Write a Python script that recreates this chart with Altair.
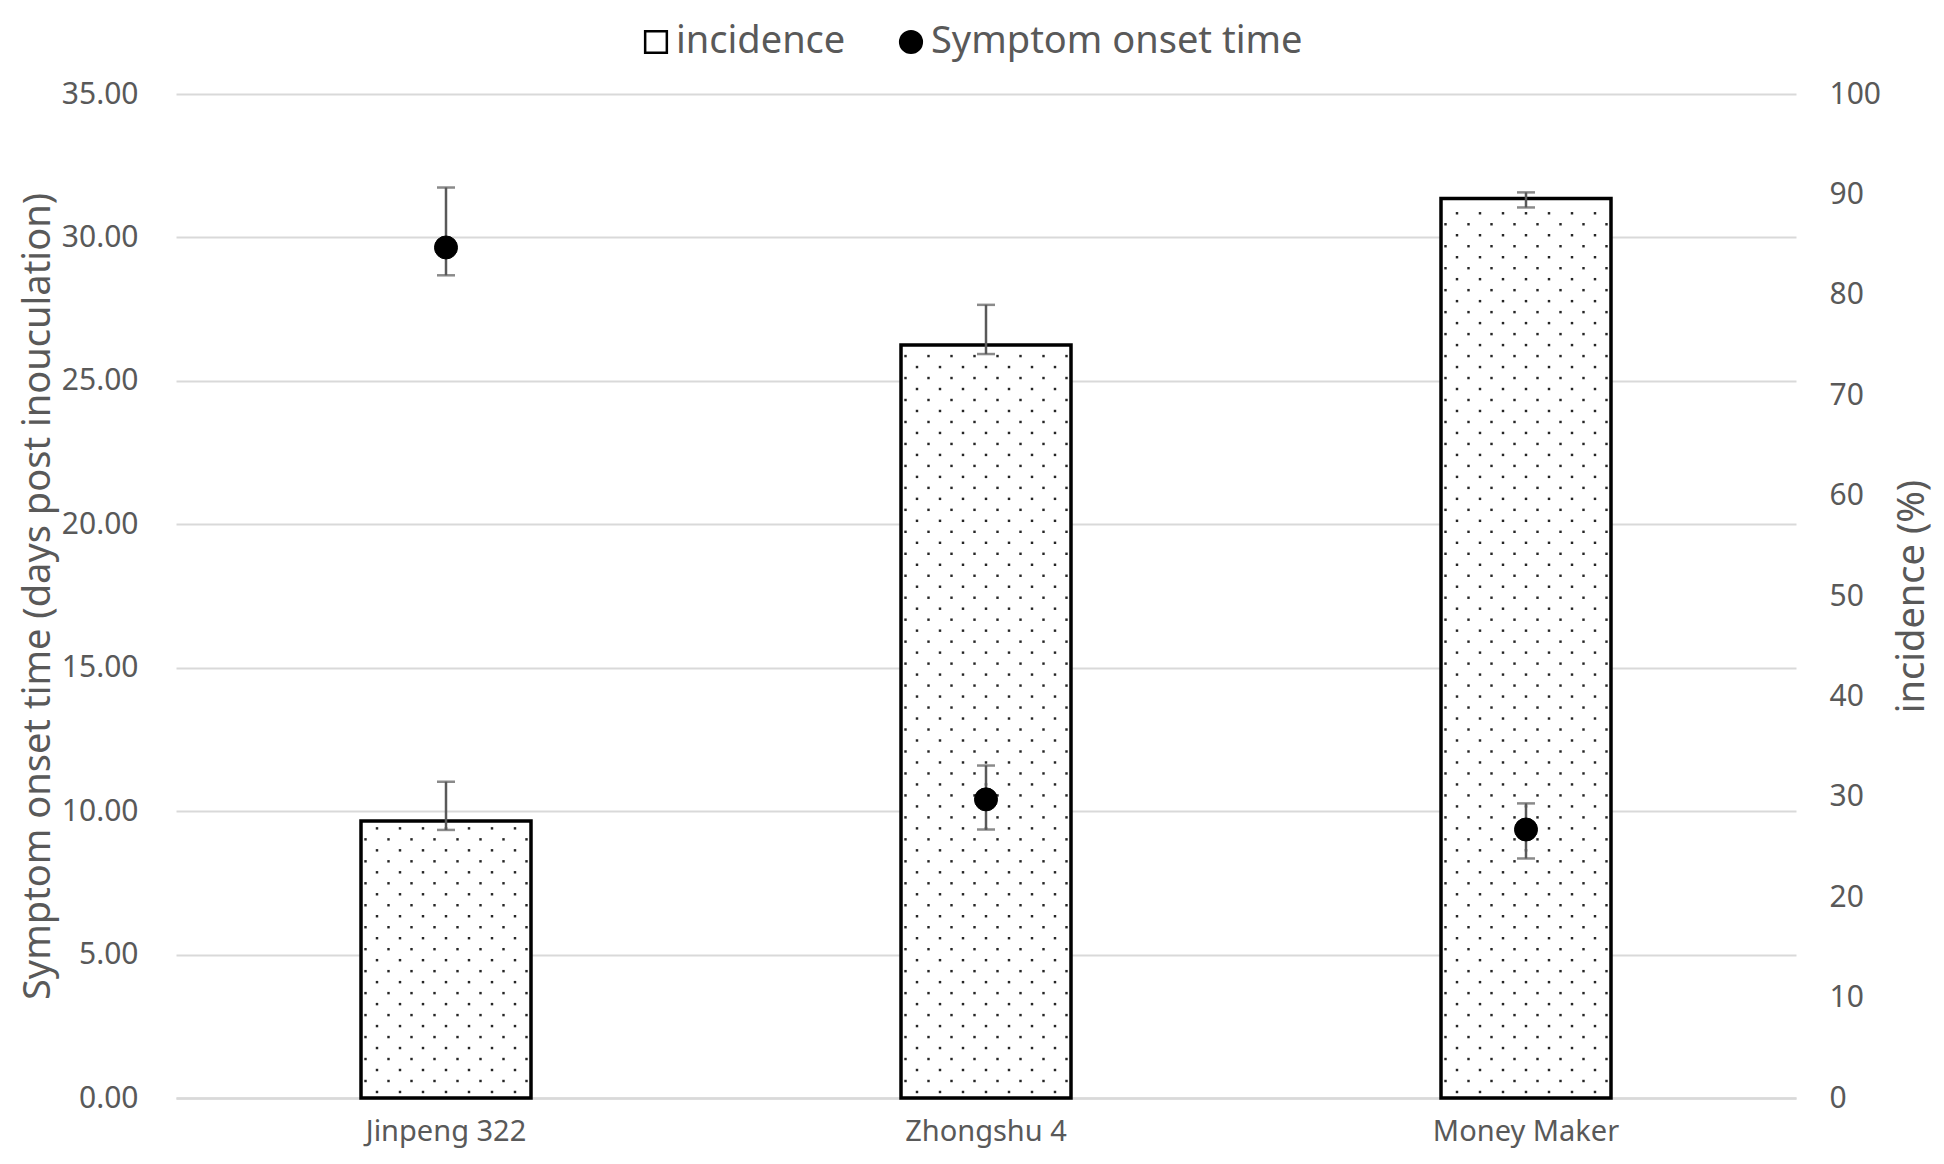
import altair as alt
import pandas as pd

cultivars = ["Jinpeng 322", "Zhongshu 4", "Money Maker"]
incidence = [27.6, 75.0, 89.6]
incidence_low = [26.7, 74.1, 88.7]
incidence_high = [31.5, 79.0, 90.2]
onset = [29.65, 10.41, 9.36]
onset_low = [28.68, 9.36, 8.35]
onset_high = [31.74, 11.59, 10.27]
series_names = ["incidence", "Symptom onset time"]
left_ticks = [0, 5, 10, 15, 20, 25, 30, 35]
right_ticks = [0, 10, 20, 30, 40, 50, 60, 70, 80, 90, 100]

df_inc = pd.DataFrame({"cultivar": cultivars, "incidence": incidence,
                       "lo": incidence_low, "hi": incidence_high})
df_on = pd.DataFrame({"cultivar": cultivars, "onset": onset,
                      "lo": onset_low, "hi": onset_high,
                      "series": ["Symptom onset time"] * 3})

FONT = "Noto Sans"
GREY = "#595959"
GRID = "#D9D9D9"
W, H = 1620, 1004

x_axis = alt.Axis(title=None, labelAngle=0, labelFontSize=29, labelColor=GREY,
                  labelPadding=19, labelLimit=1000, ticks=False, domain=True,
                  domainColor=GRID, domainWidth=2.5, labelFont=FONT, grid=False)


def xe():
    return alt.X("cultivar:N", sort=cultivars,
                 scale=alt.Scale(paddingInner=0, paddingOuter=0), axis=x_axis)


inc_axis = alt.Axis(orient="right", values=right_ticks, grid=False, ticks=False,
                    domain=False, labelPadding=33, labelFontSize=30,
                    labelColor=GREY, labelFont=FONT, title="incidence (%)",
                    titleFontSize=38, titleColor=GREY, titleFontWeight="normal",
                    titleFont=FONT, titleAngle=270, titleX=116, titleY=H / 2,
                    titleBaseline="middle", titleAlign="center")

on_axis = alt.Axis(orient="left", values=left_ticks, format=".2f", grid=True,
                   gridColor=GRID, gridWidth=2, ticks=False, domain=False,
                   labelPadding=38, labelFontSize=30, labelColor=GREY,
                   labelFont=FONT,
                   title="Symptom onset time (days post inouculation)",
                   titleFontSize=38, titleColor=GREY, titleFontWeight="normal",
                   titleFont=FONT, titleX=-138, titleY=H / 2,
                   titleBaseline="middle", titleAlign="center")


def yi(field):
    return alt.Y(field, type="quantitative", scale=alt.Scale(domain=[0, 100]),
                 axis=inc_axis)


def yo(field):
    return alt.Y(field, type="quantitative", scale=alt.Scale(domain=[0, 35]),
                 axis=on_axis)


bars = alt.Chart(df_inc).mark_bar(width=170, fill="white", stroke="black",
                                  strokeWidth=3.5).encode(x=xe(), y=yi("incidence"))

dots = (
    alt.Chart(df_inc)
    .transform_calculate(k="sequence(0, floor((datum.incidence - 0.5) / 1.094) + 1)")
    .transform_flatten(["k"])
    .transform_calculate(yd="0.6 + datum.k * 1.094")
    .transform_filter("datum.yd < datum.incidence - 0.4")
    .transform_calculate(xs="datum.k % 2 == 0 ? sequence(-3, 4) : sequence(-3.5, 4)")
    .transform_flatten(["xs"])
    .transform_calculate(xo="270 + datum.xs * 23")
    .mark_square(size=6, color="black", opacity=0.85)
    .encode(x=xe(),
            xOffset=alt.XOffset("xo:Q", scale=alt.Scale(domain=[0, 540], range=[0, 540])),
            y=yi("yd"))
)

inc_rule = alt.Chart(df_inc).mark_rule(color=GREY, strokeWidth=2.5).encode(
    x=xe(), y=yi("lo"), y2="hi")
inc_cap_lo = alt.Chart(df_inc).mark_tick(size=18, thickness=2.5, color=GREY).encode(
    x=xe(), y=yi("lo"))
inc_cap_hi = alt.Chart(df_inc).mark_tick(size=18, thickness=2.5, color=GREY).encode(
    x=xe(), y=yi("hi"))

inc_layer = alt.layer(bars, dots, inc_rule, inc_cap_lo, inc_cap_hi)

legend = alt.Legend(title=None, orient="none", legendX=461, legendY=-71,
                    direction="horizontal", labelFontSize=38, labelColor=GREY,
                    labelFont=FONT, labelLimit=1000, symbolSize=470,
                    symbolStrokeColor="black", symbolStrokeWidth=2.5,
                    columnPadding=46, labelOffset=1)

on_rule = alt.Chart(df_on).mark_rule(color=GREY, strokeWidth=2.5).encode(
    x=xe(), y=yo("lo"), y2="hi")
on_cap_lo = alt.Chart(df_on).mark_tick(size=18, thickness=2.5, color=GREY).encode(
    x=xe(), y=yo("lo"))
on_cap_hi = alt.Chart(df_on).mark_tick(size=18, thickness=2.5, color=GREY).encode(
    x=xe(), y=yo("hi"))
on_pts = alt.Chart(df_on).mark_point(filled=True, size=530, opacity=1,
                                     strokeWidth=1).encode(
    x=xe(), y=yo("onset"),
    fill=alt.Fill("series:N", scale=alt.Scale(domain=series_names,
                                              range=["white", "black"]),
                  legend=legend),
    shape=alt.Shape("series:N", scale=alt.Scale(domain=series_names,
                                                range=["square", "circle"]),
                    legend=legend),
    stroke=alt.Stroke("series:N", scale=alt.Scale(domain=series_names,
                                                  range=["black", "black"]),
                      legend=legend),
)

on_layer = alt.layer(on_rule, on_cap_lo, on_cap_hi, on_pts)

chart = (
    alt.layer(inc_layer, on_layer)
    .resolve_scale(y="independent")
    .properties(width=W, height=H,
                autosize=alt.AutoSizeParams(type="none"),
                padding={"left": 168, "top": 86, "right": 140, "bottom": 58})
    .configure(font=FONT, background="white")
    .configure_view(strokeWidth=0, stroke="transparent")
    .configure_axisY(domain=False, ticks=False)
    .configure_axisX(grid=False)
)

chart.save("out.html", embed_options={"renderer": "svg", "actions": False})
